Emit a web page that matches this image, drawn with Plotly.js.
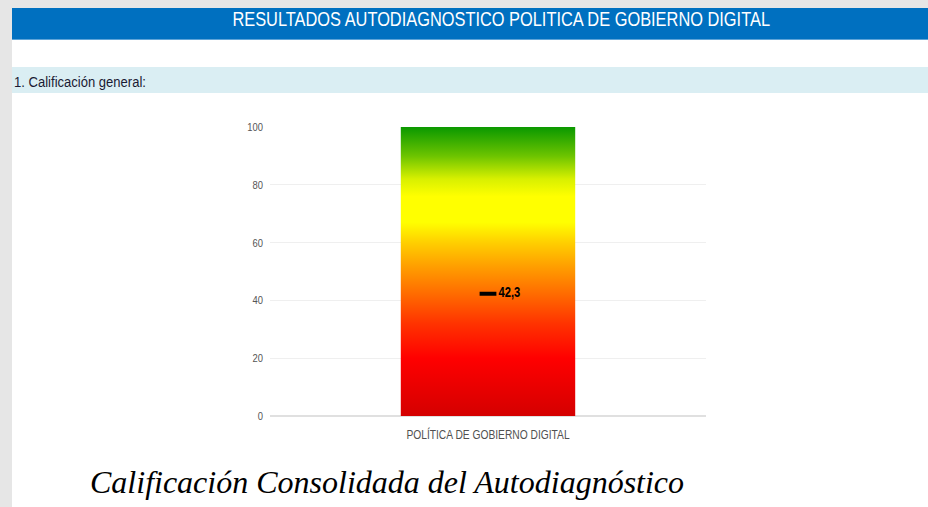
<!DOCTYPE html>
<html>
<head>
<meta charset="utf-8">
<script src="https://cdn.plot.ly/plotly-3.0.1.min.js"></script>
<style>
  html, body { margin: 0; padding: 0; background: #ffffff; }
  #chart { width: 928px; height: 507px; }
</style>
</head>
<body>
<div id="chart"></div>
<script>
// ---- data ----
const categories = ['POLÍTICA DE GOBIERNO DIGITAL'];
const scaleMax = [100];
const score = [42.3];
const yTickVals = [0, 20, 40, 60, 80, 100];
const yTickText = ['0', '20', '40', '60', '80', '100'];
const headerTitle = 'RESULTADOS AUTODIAGNOSTICO POLITICA DE GOBIERNO DIGITAL';
const sectionTitle = '1. Calificación general:';
const caption = 'Calificación Consolidada del Autodiagnóstico';

// ---- geometry helpers ----
const W = 928, H = 507;
const M = { l: 270, r: 222, t: 127, b: 91 };
const PW = W - M.l - M.r, PH = H - M.t - M.b;
const px = v => (v - M.l) / PW;
const py = v => (H - M.b - v) / PH;

const sans = '"Liberation Sans", Arial, sans-serif';

const rect = (x0, y0, x1, y1, color) => ({
  type: 'rect', xref: 'paper', yref: 'paper',
  x0: px(x0), x1: px(x1), y0: py(y1), y1: py(y0),
  fillcolor: color, line: { width: 0 }, layer: 'below'
});

const traces = [
  {
    type: 'bar',
    x: categories,
    y: scaleMax,
    width: 0.4,
    marker: { color: '#ff8000', line: { width: 0 } },
    hoverinfo: 'skip'
  },
  {
    type: 'scatter',
    mode: 'markers+text',
    x: categories,
    y: score,
    marker: { symbol: 'line-ew', size: 12, color: '#000', line: { width: 4, color: '#000' } },
    texttemplate: '%{y:.1f}',
    textposition: 'middle right',
    textfont: { family: sans, size: 14, color: '#000', weight: 'bold' },
    cliponaxis: false,
    hoverinfo: 'skip'
  }
];

const layout = {
  width: W, height: H,
  margin: M,
  paper_bgcolor: '#ffffff',
  plot_bgcolor: '#ffffff',
  separators: ',.',
  showlegend: false,
  hovermode: false,
  xaxis: {
    type: 'category',
    range: [-0.5, 0.5],
    showgrid: false, zeroline: false, showline: false,
    ticks: '', ticklen: 0,
    ticklabelstandoff: 10,
    tickfont: { family: sans, size: 12.5, color: '#505050' },
    fixedrange: true
  },
  yaxis: {
    range: [0, 100],
    tickvals: yTickVals,
    ticktext: yTickText,
    showgrid: true, gridcolor: '#efefef', gridwidth: 1,
    zeroline: true, zerolinecolor: '#e0e0e0', zerolinewidth: 2,
    showline: false, ticks: '',
    ticklabelstandoff: 6,
    tickfont: { family: sans, size: 11.5, color: '#555555' },
    fixedrange: true
  },
  shapes: [
    rect(0, 0, 12, H, '#e6e6e6'),
    rect(0, 0, W, 8, '#e6e6e6'),
    rect(12, 8, W, 39, '#0070c0'),
    rect(12, 39, W, 40, '#5ea4d8'),
    rect(12, 67, W, 93, '#daeef3')
  ],
  annotations: [
    {
      xref: 'paper', yref: 'paper', x: px(501), y: py(19),
      xanchor: 'center', yanchor: 'middle', showarrow: false,
      text: headerTitle,
      font: { family: sans, size: 20, color: '#ffffff' }
    },
    {
      xref: 'paper', yref: 'paper', x: px(12), y: py(81),
      xanchor: 'left', yanchor: 'middle', showarrow: false,
      text: sectionTitle,
      font: { family: sans, size: 15, color: '#1a1a33' }
    },
    {
      xref: 'paper', yref: 'paper', x: px(387), y: py(482),
      xanchor: 'center', yanchor: 'middle', showarrow: false,
      text: caption,
      font: { family: '"Liberation Serif", "Times New Roman", serif', size: 32, color: '#000', style: 'italic' }
    }
  ]
};

// horizontally condense a text element (mimics a narrow typeface)
function condense(el, s, mode, dx) {
  const bb = el.getBBox();
  const anchor = mode || el.getAttribute('text-anchor') || 'start';
  let ax = bb.x;
  if (anchor === 'middle') ax = bb.x + bb.width / 2;
  else if (anchor === 'end') ax = bb.x + bb.width;
  const prev = el.getAttribute('transform') || '';
  el.setAttribute('transform', (prev + ` translate(${ax + (dx || 0)},0) scale(${s},1) translate(${-ax},0)`).trim());
}

Plotly.newPlot('chart', traces, layout, { displayModeBar: false, staticPlot: true }).then(gd => {
  const svg = gd.querySelector('svg.main-svg');
  const ns = 'http://www.w3.org/2000/svg';
  let defs = svg.querySelector('defs');
  if (!defs) { defs = document.createElementNS(ns, 'defs'); svg.insertBefore(defs, svg.firstChild); }
  const grad = document.createElementNS(ns, 'linearGradient');
  grad.setAttribute('id', 'barGrad');
  grad.setAttribute('x1', '0'); grad.setAttribute('y1', '1');
  grad.setAttribute('x2', '0'); grad.setAttribute('y2', '0');
  const stops = [
    [0.00, '#d40000'], [0.20, '#ff0000'], [0.32, '#ff3300'], [0.42, '#ff6a00'],
    [0.52, '#ffa000'], [0.60, '#ffcf00'], [0.67, '#ffff00'], [0.76, '#ffff00'],
    [0.82, '#d8f000'], [0.90, '#6cc400'], [1.00, '#0a9800']
  ];
  stops.forEach(([o, c]) => {
    const s = document.createElementNS(ns, 'stop');
    s.setAttribute('offset', o); s.setAttribute('stop-color', c);
    grad.appendChild(s);
  });
  defs.appendChild(grad);
  gd.querySelectorAll('.barlayer .point path').forEach(p => {
    p.style.fill = 'url(#barGrad)';
  });

  gd.querySelectorAll('.ytick text').forEach(t => condense(t, 0.82));
  gd.querySelectorAll('.xtick text').forEach(t => condense(t, 0.82));
  gd.querySelectorAll('.textpoint text').forEach(t => condense(t, 0.8, 'start', 2));
  const ann = gd.querySelectorAll('.annotation-text');
  if (ann[0]) condense(ann[0], 0.82, 'middle');
  if (ann[1]) condense(ann[1], 0.87, 'start', 0);
});
</script>
</body>
</html>
